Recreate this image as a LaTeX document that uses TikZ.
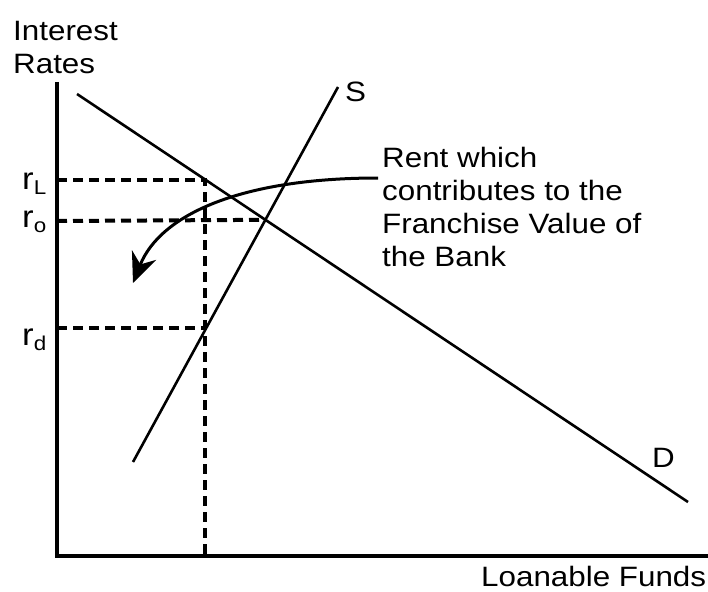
\documentclass[tikz,border=0pt]{standalone}
\usepackage{fontspec}
\setmainfont{Liberation Sans}[FakeStretch=1.12]
\usetikzlibrary{arrows.meta,positioning,calc}

\newcommand{\rate}[1]{r\raisebox{-5pt}{\fontsize{20}{20}\selectfont #1}}

\begin{document}
\begin{tikzpicture}[
  x=1pt, y=-1pt,
  axis/.style={line width=3.4pt},
  curve/.style={line width=2.6pt},
  guide/.style={line width=4pt, dash pattern=on 10pt off 6pt},
  rentarrow/.style={-{Stealth[length=30pt, width=26pt, inset=10pt]}, line width=3pt},
  label/.style={inner sep=0pt, anchor=base west, align=left,
                font=\fontsize{28}{33}\selectfont},
  ratelabel/.style={inner sep=0pt, anchor=base west,
                font=\fontsize{31}{31}\selectfont}
]
  \useasboundingbox (0,0) rectangle (708,591);

  % Axes
  \coordinate (origin) at (57,556);
  \coordinate (ytop)   at (57,82);
  \coordinate (xend)   at (708,556);
  \draw[axis] (ytop) -- (origin) -- (xend);

  % Supply and demand
  \coordinate (dhi) at (77,94);
  \coordinate (dlo) at (688,502);
  \coordinate (slo) at (133,462);
  \coordinate (shi) at (338,87);
  \draw[curve] (dhi) -- (dlo);
  \draw[curve] (slo) -- (shi);
  \coordinate (eq) at (intersection of dhi--dlo and slo--shi);

  % Rates
  \coordinate (yL) at (57,180);
  \coordinate (pL) at (205,180);
  \coordinate (yo) at (57,221);
  \coordinate (yd) at (57,328);
  \coordinate (pd) at (205,328);
  \coordinate (xq) at (205,556);
  \draw[guide] (yL) -- (pL) -- (xq);
  \draw[guide] (yo) -- (eq);
  \draw[guide] (yd) -- (pd);

  % Labels (base of a multi-line node is its last line)
  \node[label] (ylab) at (13,74) {Interest\\Rates};
  \node[label] (xlab) at (481,586) {Loanable Funds};
  \node[label] (slab) at (345,102) {S};
  \node[label] (dlab) at (652,467) {D};
  \node[ratelabel] (rL) at (22,189) {\rate{L}};
  \node[ratelabel] (ro) at (22,227) {\rate{o}};
  \node[ratelabel] (rd) at (22,345) {\rate{d}};
  \node[label] (rent) at (382,266) {Rent which\\contributes to the\\Franchise Value of\\the Bank};

  % Rent arrow
  \coordinate (rentfrom) at (378,178);
  \coordinate (rentto)   at (133,283);
  \draw[rentarrow] (rentfrom) .. controls (240,178) and (160,215) .. (rentto);
\end{tikzpicture}
\end{document}
